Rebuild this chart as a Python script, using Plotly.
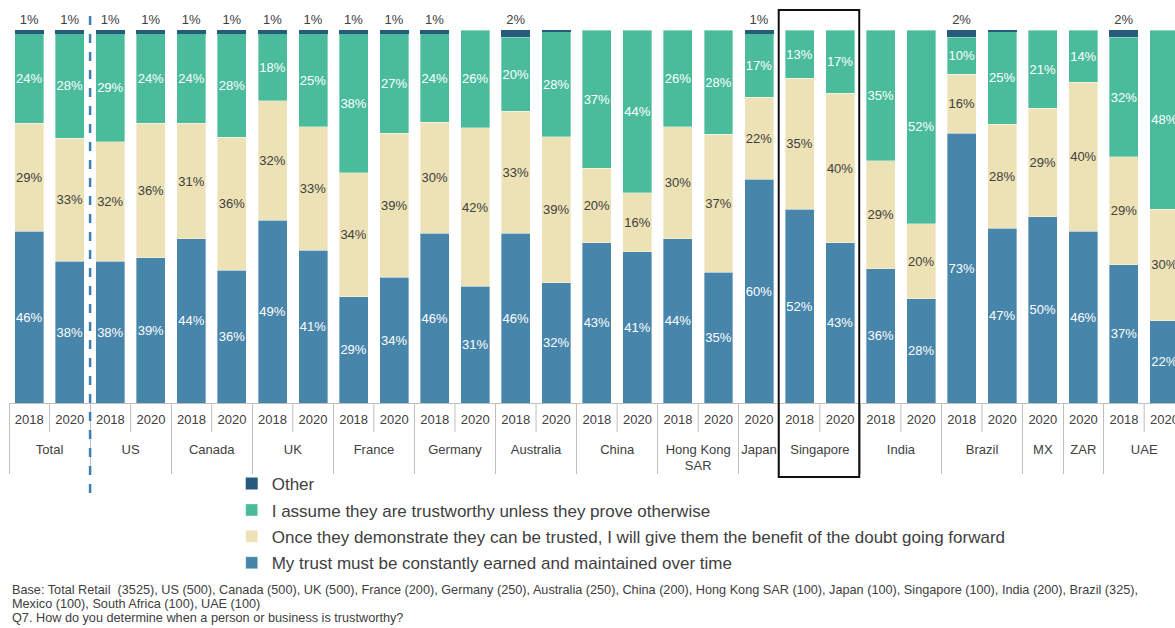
import plotly.graph_objects as go

# Survey groups (outer axis level) and survey years (inner axis level)
countries = ["Total", "Total", "US", "US", "Canada", "Canada", "UK", "UK",
             "France", "France", "Germany", "Germany", "Australia", "Australia",
             "China", "China", "Hong Kong<br>SAR", "Hong Kong<br>SAR", "Japan",
             "Singapore", "Singapore", "India", "India", "Brazil", "Brazil",
             "MX", "ZAR", "UAE", "UAE"]
years = ["2018", "2020", "2018", "2020", "2018", "2020", "2018", "2020",
         "2018", "2020", "2018", "2020", "2018", "2020", "2018", "2020",
         "2018", "2020", "2020", "2018", "2020", "2018", "2020", "2018", "2020",
         "2020", "2020", "2018", "2020"]

# Share of respondents per answer (%)
earned = [46, 38, 38, 39, 44, 36, 49, 41, 29, 34, 46, 31, 46, 32, 43, 41,
          44, 35, 60, 52, 43, 36, 28, 73, 47, 50, 46, 37, 22]
benefit = [29, 33, 32, 36, 31, 36, 32, 33, 34, 39, 30, 42, 33, 39, 20, 16,
           30, 37, 22, 35, 40, 29, 20, 16, 28, 29, 40, 29, 30]
assume = [24, 28, 29, 24, 24, 28, 18, 25, 38, 27, 24, 26, 20, 28, 37, 44,
          26, 28, 17, 13, 17, 35, 52, 10, 25, 21, 14, 32, 48]
other = [1, 1, 1, 1, 1, 1, 1, 1, 1, 1, 1, 0, 2, 0.4, 0, 0,
         0, 0, 1, 0, 0, 0, 0, 2, 0.4, 0, 0, 2, 0]

names = ["My trust must be constantly earned and maintained over time",
         "Once they demonstrate they can be trusted, I will give them the benefit of the doubt going forward",
         "I assume they are trustworthy unless they prove otherwise",
         "Other"]
colors = ["#4785AA", "#EDE2B5", "#4ABC9C", "#265B7B"]
text_colors = ["#FFFFFF", "#404040", "#FFFFFF", "#404040"]

note_lines = [
    "Base: Total Retail  (3525), US (500), Canada (500), UK (500), France (200), Germany (250), "
    "Australia (250), China (200), Hong Kong SAR (100), Japan (100), Singapore (100), India (200), Brazil (325),",
    "Mexico (100), South Africa (100), UAE (100)",
    "Q7. How do you determine when a person or business is trustworthy?",
]

FONT = "Liberation Sans, Arial, sans-serif"
# a leading blank line drops the group labels a little below the years
x = [["<br>" + c for c in countries], years]


def labels(vals):
    return [f"{v:g}%" if v >= 1 else "" for v in vals]


series = [earned, benefit, assume, other]
fig = go.Figure()
for i, (vals, name) in enumerate(zip(series, names)):
    is_other = name == "Other"
    fig.add_trace(go.Bar(
        x=x, y=vals, name=name,
        marker=dict(color=colors[i],
                    line=dict(color="rgba(255,255,255,0.45)", width=0 if is_other else 0.8)),
        text=labels(vals),
        textposition="outside" if is_other else "inside",
        insidetextanchor="middle",
        textangle=0,
        constraintext="none",
        cliponaxis=False,
        textfont=dict(family=FONT, size=13, color=text_colors[i]),
        legendgroup=name,
        legendrank=len(series) - i,  # top of the stack listed first
        hovertemplate="%{x}<br>" + name + ": %{text}<extra></extra>",
    ))

n = len(countries)
x0, x1 = -0.5, n - 1 + 0.26
plot_h = 373.0


def px_x(idx):
    return (idx - x0) / (x1 - x0)


def px_y(pixels_below_axis):
    return -pixels_below_axis / plot_h


shapes = []
# short separators between the two years of a group
for i in range(n - 1):
    if countries[i] == countries[i + 1]:
        xp = px_x(i + 0.5)
        shapes.append(dict(type="line", xref="paper", yref="paper",
                           x0=xp, x1=xp, y0=0, y1=px_y(29),
                           line=dict(color="#BFBFBF", width=1)))

# dashed split between the total and the individual markets
split = px_x(countries.index("US") - 0.5)
shapes.append(dict(type="line", xref="paper", yref="paper",
                   x0=split, x1=split, y0=1 + 14 / plot_h, y1=px_y(97),
                   line=dict(color="#3C7FB1", width=2.5, dash="dash")))

# frame around Singapore
sg_first = countries.index("Singapore")
sg_last = len(countries) - 1 - countries[::-1].index("Singapore")
shapes.append(dict(type="rect", xref="paper", yref="paper",
                   x0=px_x(sg_first - 0.5) - 0.0005, x1=px_x(sg_last + 0.5) - 0.001,
                   y0=px_y(74), y1=1 + 20 / plot_h,
                   line=dict(color="#111111", width=2), fillcolor="rgba(0,0,0,0)"))

# footnote, one annotation per line for tight line spacing
annotations = [
    dict(text=line, xref="paper", yref="paper", x=0.0005, y=px_y(187 + 14 * k),
         xanchor="left", yanchor="middle", align="left", showarrow=False,
         font=dict(family=FONT, size=12.7, color="#404040"))
    for k, line in enumerate(note_lines)
]

fig.update_layout(
    width=1175, height=628,
    barmode="stack", barnorm="percent", bargap=0.285,
    plot_bgcolor="white", paper_bgcolor="white",
    margin=dict(l=9, r=0, t=30, b=225),
    font=dict(family=FONT, size=13, color="#404040"),
    showlegend=True,
    legend=dict(traceorder="grouped", orientation="v",
                x=0.191, xanchor="left", y=px_y(63), yanchor="top",
                font=dict(family=FONT, size=17, color="#404040"),
                tracegroupgap=1.3, itemwidth=30,
                bgcolor="rgba(0,0,0,0)"),
    shapes=shapes,
    annotations=annotations,
)

fig.update_xaxes(type="multicategory", range=[x0, x1],
                 showline=True, linecolor="#BFBFBF", linewidth=1,
                 ticks="", ticklabelstandoff=4,
                 showdividers=True, dividercolor="#BFBFBF", dividerwidth=1,
                 tickfont=dict(family=FONT, size=13, color="#404040"),
                 showgrid=False, zeroline=False, fixedrange=True)
fig.update_yaxes(range=[0, 100], visible=False, showgrid=False, fixedrange=True)

fig.write_html("out.html")
